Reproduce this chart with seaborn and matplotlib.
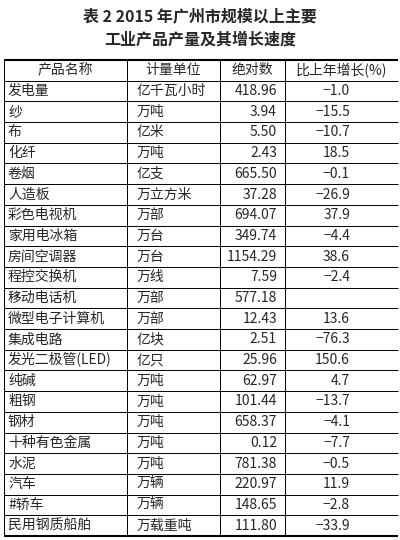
import matplotlib
matplotlib.use("Agg")
import matplotlib.pyplot as plt
import seaborn as sns

sns.set_theme(style="white")
plt.rcParams['font.family'] = ['Noto Sans CJK SC', 'DejaVu Sans']

title1 = "表 2 2015 年广州市规模以上主要"
title2 = "工业产品产量及其增长速度"
headers = ["产品名称", "计量单位", "绝对数", "比上年增长(%)"]
names = ["发电量", "纱", "布", "化纤", "卷烟", "人造板", "彩色电视机", "家用电冰箱",
         "房间空调器", "程控交换机", "移动电话机", "微型电子计算机", "集成电路",
         "发光二极管(LED)", "纯碱", "粗钢", "钢材", "十种有色金属", "水泥", "汽车",
         "#轿车", "民用钢质船舶"]
units = ["亿千瓦小时", "万吨", "亿米", "万吨", "亿支", "万立方米", "万部", "万台",
         "万台", "万线", "万部", "万部", "亿块", "亿只", "万吨", "万吨", "万吨",
         "万吨", "万吨", "万辆", "万辆", "万载重吨"]
values = ["418.96", "3.94", "5.50", "2.43", "665.50", "37.28", "694.07", "349.74",
          "1154.29", "7.59", "577.18", "12.43", "2.51", "25.96", "62.97", "101.44",
          "658.37", "0.12", "781.38", "220.97", "148.65", "111.80"]
growth = ["−1.0", "−15.5", "−10.7", "18.5", "−0.1", "−26.9", "37.9", "−4.4",
          "38.6", "−2.4", "", "13.6", "−76.3", "150.6", "4.7", "−13.7", "−4.1",
          "−7.7", "−0.5", "11.9", "−2.8", "−33.9"]

W, H = 400, 540
fig = plt.figure(figsize=(W/100, H/100), dpi=100)
ax = fig.add_axes([0, 0, 1, 1])
ax.set_xlim(0, W); ax.set_ylim(H, 0); ax.axis('off')

ax.text(W/2, 16, title1, ha='center', va='center', fontsize=11.5, fontweight='bold')
ax.text(W/2, 40, title2, ha='center', va='center', fontsize=11.5, fontweight='bold')

top, bottom = 60, 536
n = len(names) + 1
rh = (bottom - top) / n
vx = [127, 220, 285]
ax.hlines(top, 4, 398, color='black', lw=1.5)
ax.hlines(bottom, 4, 398, color='black', lw=1.5)
for i in range(1, n):
    ax.hlines(top + i*rh, 4, 398, color='black', lw=0.7)
ax.vlines([4] + vx, top, bottom, color='black', lw=0.7)

fs = 10
hy = top + rh/2
ax.text(65, hy, headers[0], ha='center', va='center', fontsize=fs)
ax.text(173, hy, headers[1], ha='center', va='center', fontsize=fs)
ax.text(252, hy, headers[2], ha='center', va='center', fontsize=fs)
ax.text(341, hy, headers[3], ha='center', va='center', fontsize=fs)
for i in range(len(names)):
    y = top + (i + 1.5)*rh
    ax.text(8, y, names[i], ha='left', va='center', fontsize=fs)
    ax.text(137, y, units[i], ha='left', va='center', fontsize=fs)
    ax.text(277, y, values[i], ha='right', va='center', fontsize=fs)
    ax.text(350, y, growth[i], ha='right', va='center', fontsize=fs)

fig.savefig("out.png", dpi=100, facecolor='white')
